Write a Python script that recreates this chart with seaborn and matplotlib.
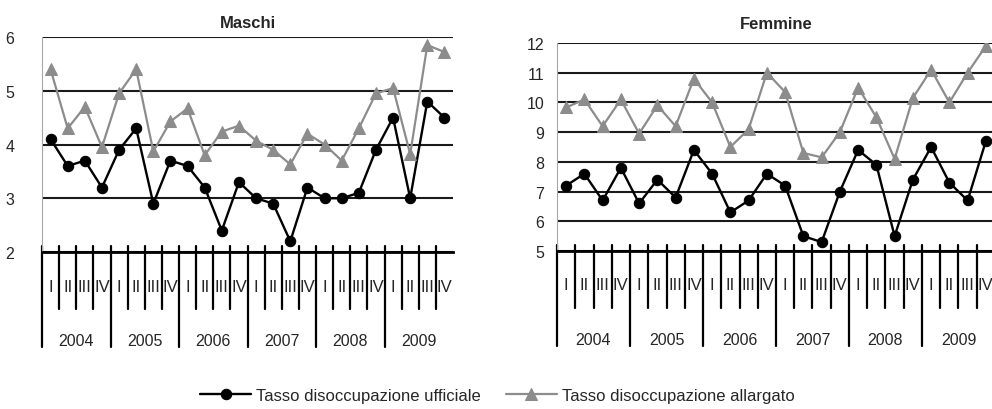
import numpy as np
import pandas as pd
import matplotlib.pyplot as plt
import seaborn as sns

# --- DATA ---
YEARS = ["2004", "2005", "2006", "2007", "2008", "2009"]
QUARTERS = ["I", "II", "III", "IV"]

MASCHI_UFF = [4.1, 3.6, 3.7, 3.2, 3.9, 4.3, 2.9, 3.7, 3.6, 3.2, 2.4, 3.3,
              3.0, 2.9, 2.2, 3.2, 3.0, 3.0, 3.1, 3.9, 4.5, 3.0, 4.8, 4.5]
MASCHI_ALL = [5.4, 4.3, 4.7, 3.95, 4.95, 5.4, 3.87, 4.43, 4.67, 3.8, 4.24, 4.35,
              4.07, 3.9, 3.63, 4.2, 4.0, 3.7, 4.3, 4.95, 5.05, 3.82, 5.85, 5.72]
FEMM_UFF = [7.2, 7.6, 6.7, 7.8, 6.6, 7.4, 6.8, 8.4, 7.6, 6.3, 6.7, 7.6,
            7.2, 5.5, 5.3, 7.0, 8.4, 7.9, 5.5, 7.4, 8.5, 7.3, 6.7, 8.7]
FEMM_ALL = [9.83, 10.1, 9.2, 10.1, 8.95, 9.9, 9.2, 10.8, 10.0, 8.5, 9.1, 11.0,
            10.35, 8.3, 8.15, 9.0, 10.5, 9.5, 8.1, 10.15, 11.1, 10.0, 11.0, 11.9]

LBL_UFF = "Tasso disoccupazione ufficiale"
LBL_ALL = "Tasso disoccupazione allargato"

GRAY = "#8c8c8c"
W, H = 992, 410

sns.set_style("white")
plt.rcParams['font.family'] = ['Liberation Sans', 'DejaVu Sans']

fig = plt.figure(figsize=(W / 100, H / 100), dpi=100)


def px_axes(left, top, right, bottom):
    return fig.add_axes([left / W, 1 - bottom / H, (right - left) / W, (bottom - top) / H])


def draw_panel(ax, title, uff, allg, ymin, ymax, ax_h, ypad, tpad):
    n = len(uff)
    df = pd.DataFrame({"idx": np.arange(n), "uff": uff, "all": allg})
    sns.lineplot(data=df, x="idx", y="uff", ax=ax, color="black", marker="o",
                 markersize=7.5, markeredgecolor="black", linewidth=1.7, label=LBL_UFF)
    sns.lineplot(data=df, x="idx", y="all", ax=ax, color=GRAY, marker="^",
                 markersize=8, markeredgecolor=GRAY, linewidth=1.6, label=LBL_ALL)
    ax.get_legend().remove()

    ax.set_xlim(-0.5, n - 0.5)
    ax.set_ylim(ymin, ymax)
    ax.set_yticks(range(ymin, ymax + 1))
    ax.yaxis.grid(True, color="#1a1a1a", linewidth=1.5)
    ax.set_axisbelow(True)
    ax.set_xticks([])
    ax.set_xlabel("")
    ax.set_ylabel("")
    ax.tick_params(axis="y", length=0, pad=ypad, labelsize=11.5)

    for s in ["top", "right"]:
        ax.spines[s].set_visible(False)
    ax.spines["left"].set_color("#a8a8a8")
    ax.spines["left"].set_linewidth(0.8)
    ax.spines["bottom"].set_color("black")
    ax.spines["bottom"].set_linewidth(2)

    ax.set_title(title, fontsize=12, fontweight="bold", pad=tpad)

    # multi-level category axis
    tr = ax.get_xaxis_transform()
    f = lambda px: -px / ax_h
    for k in range(n):
        x = k - 0.5
        bottom = 95 if k % 4 == 0 else 57
        ax.plot([x, x], [f(-6), f(bottom)], color="black", lw=1.6,
                transform=tr, clip_on=False)
        ax.text(k, f(34), QUARTERS[k % 4], transform=tr, ha="center", va="center",
                fontsize=12)
    for j, yr in enumerate(YEARS):
        ax.text(4 * j + 1.5, f(89), yr, transform=tr, ha="center", va="center",
                fontsize=11.5)


ax1 = px_axes(42, 38, 453, 253)
ax2 = px_axes(557, 44, 995, 252)

draw_panel(ax1, "Maschi", MASCHI_UFF, MASCHI_ALL, 2, 6, 215, 20, 7)
draw_panel(ax2, "Femmine", FEMM_UFF, FEMM_ALL, 5, 12, 208, 9, 11)

handles, labels = ax1.get_legend_handles_labels()
fig.legend(handles, labels, loc="center", bbox_to_anchor=(0.5015, 0.034),
           ncol=2, frameon=False, fontsize=12, handlelength=3.06,
           handletextpad=0.3, columnspacing=1.5, numpoints=1,
           borderaxespad=0, borderpad=0)

fig.savefig("out.png", dpi=100)
